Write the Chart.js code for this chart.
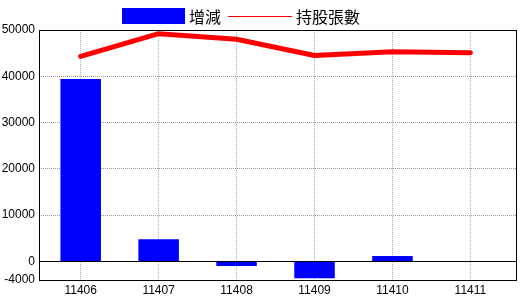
<!DOCTYPE html>
<html>
<head>
<meta charset="utf-8">
<script src="https://cdn.jsdelivr.net/npm/chart.js@4/dist/chart.umd.min.js"></script>
<style>
    body { margin: 0; background: #fff; }
    #wrap { position: relative; width: 520px; height: 300px; }
    #legend { position: absolute; top: 6px; left: 122px; display: flex; align-items: center;
              font-family: "Noto Sans CJK TC", sans-serif; font-size: 16px; line-height: 20px; color: #000; }
    .box { width: 63px; height: 16px; background: #0000ff; margin-right: 4px; }
    .line { width: 64px; height: 1px; background: #ff0000; margin: 0 4px 0 7px; }
</style>
</head>
<body>
<div id="wrap">
    <canvas id="chart" width="520" height="300"></canvas>
    <div id="legend">
        <div class="box"></div><span>增減</span>
        <div class="line"></div><span>持股張數</span>
    </div>
</div>
<script>
const months = ['11406', '11407', '11408', '11409', '11410', '11411'];
const changeValues = [39400, 4800, -1000, -3600, 1200, 0];
const holdingValues = [44300, 49200, 48000, 44500, 45300, 45100];
const yTicks = [-4000, 0, 10000, 20000, 30000, 40000, 50000];

// zero line + frame, and a slightly wider right margin on the category axis
const framePlugin = {
    id: 'frame',
    afterLayout(chart) {
        const x = chart.scales.x;
        x._startValue = -0.535;
        x._valueRange = 6.12;
    },
    beforeDatasetsDraw(chart) {
        const ctx = chart.ctx;
        const area = chart.chartArea;
        const y0 = Math.round(chart.scales.y.getPixelForValue(0)) + 0.5;
        ctx.save();
        ctx.strokeStyle = '#000';
        ctx.lineWidth = 1;
        ctx.beginPath();
        ctx.moveTo(area.left, y0);
        ctx.lineTo(area.right, y0);
        ctx.stroke();
        ctx.restore();
    },
    afterDraw(chart) {
        const ctx = chart.ctx;
        const a = chart.chartArea;
        ctx.save();
        ctx.strokeStyle = '#000';
        ctx.lineWidth = 1;
        ctx.strokeRect(Math.round(a.left) + 0.5, Math.round(a.top) + 0.5,
            Math.round(a.right - a.left), Math.round(a.bottom - a.top));
        ctx.restore();
    }
};

new Chart(document.getElementById('chart'), {
    data: {
        labels: months,
        datasets: [{
            type: 'line',
            label: '持股張數',
            data: holdingValues,
            borderColor: '#ff0000',
            borderWidth: 5,
            borderCapStyle: 'round',
            borderJoinStyle: 'round',
            pointRadius: 0,
            tension: 0,
            order: 0
        }, {
            type: 'bar',
            label: '增減',
            data: changeValues,
            backgroundColor: '#0000ff',
            barPercentage: 0.52,
            categoryPercentage: 1,
            order: 1
        }]
    },
    options: {
        responsive: false,
        animation: false,
        layout: { padding: { top: 30, right: 4, left: 0, bottom: 0 } },
        plugins: {
            legend: { display: false },
            tooltip: { enabled: false }
        },
        scales: {
            x: {
                offset: true,
                grid: {
                    offset: false,
                    color: '#9ab8cc',
                    drawTicks: false
                },
                border: { display: false, dash: [1, 1] },
                ticks: {
                    color: '#000',
                    padding: 3,
                    maxRotation: 0,
                    font: { family: 'Liberation Sans', size: 12 }
                },
                afterFit: s => { s.height = 20; }
            },
            y: {
                min: -4000,
                max: 50000,
                afterBuildTicks: s => { s.ticks = yTicks.map(v => ({ value: v })); },
                grid: {
                    color: '#999999',
                    drawTicks: false
                },
                border: { display: false, dash: [1, 1] },
                ticks: {
                    color: '#000',
                    padding: 4,
                    font: { family: 'Liberation Sans', size: 12 },
                    callback: v => String(v)
                },
                afterFit: s => { s.width = 39; }
            }
        }
    },
    plugins: [framePlugin]
});
</script>
</body>
</html>
